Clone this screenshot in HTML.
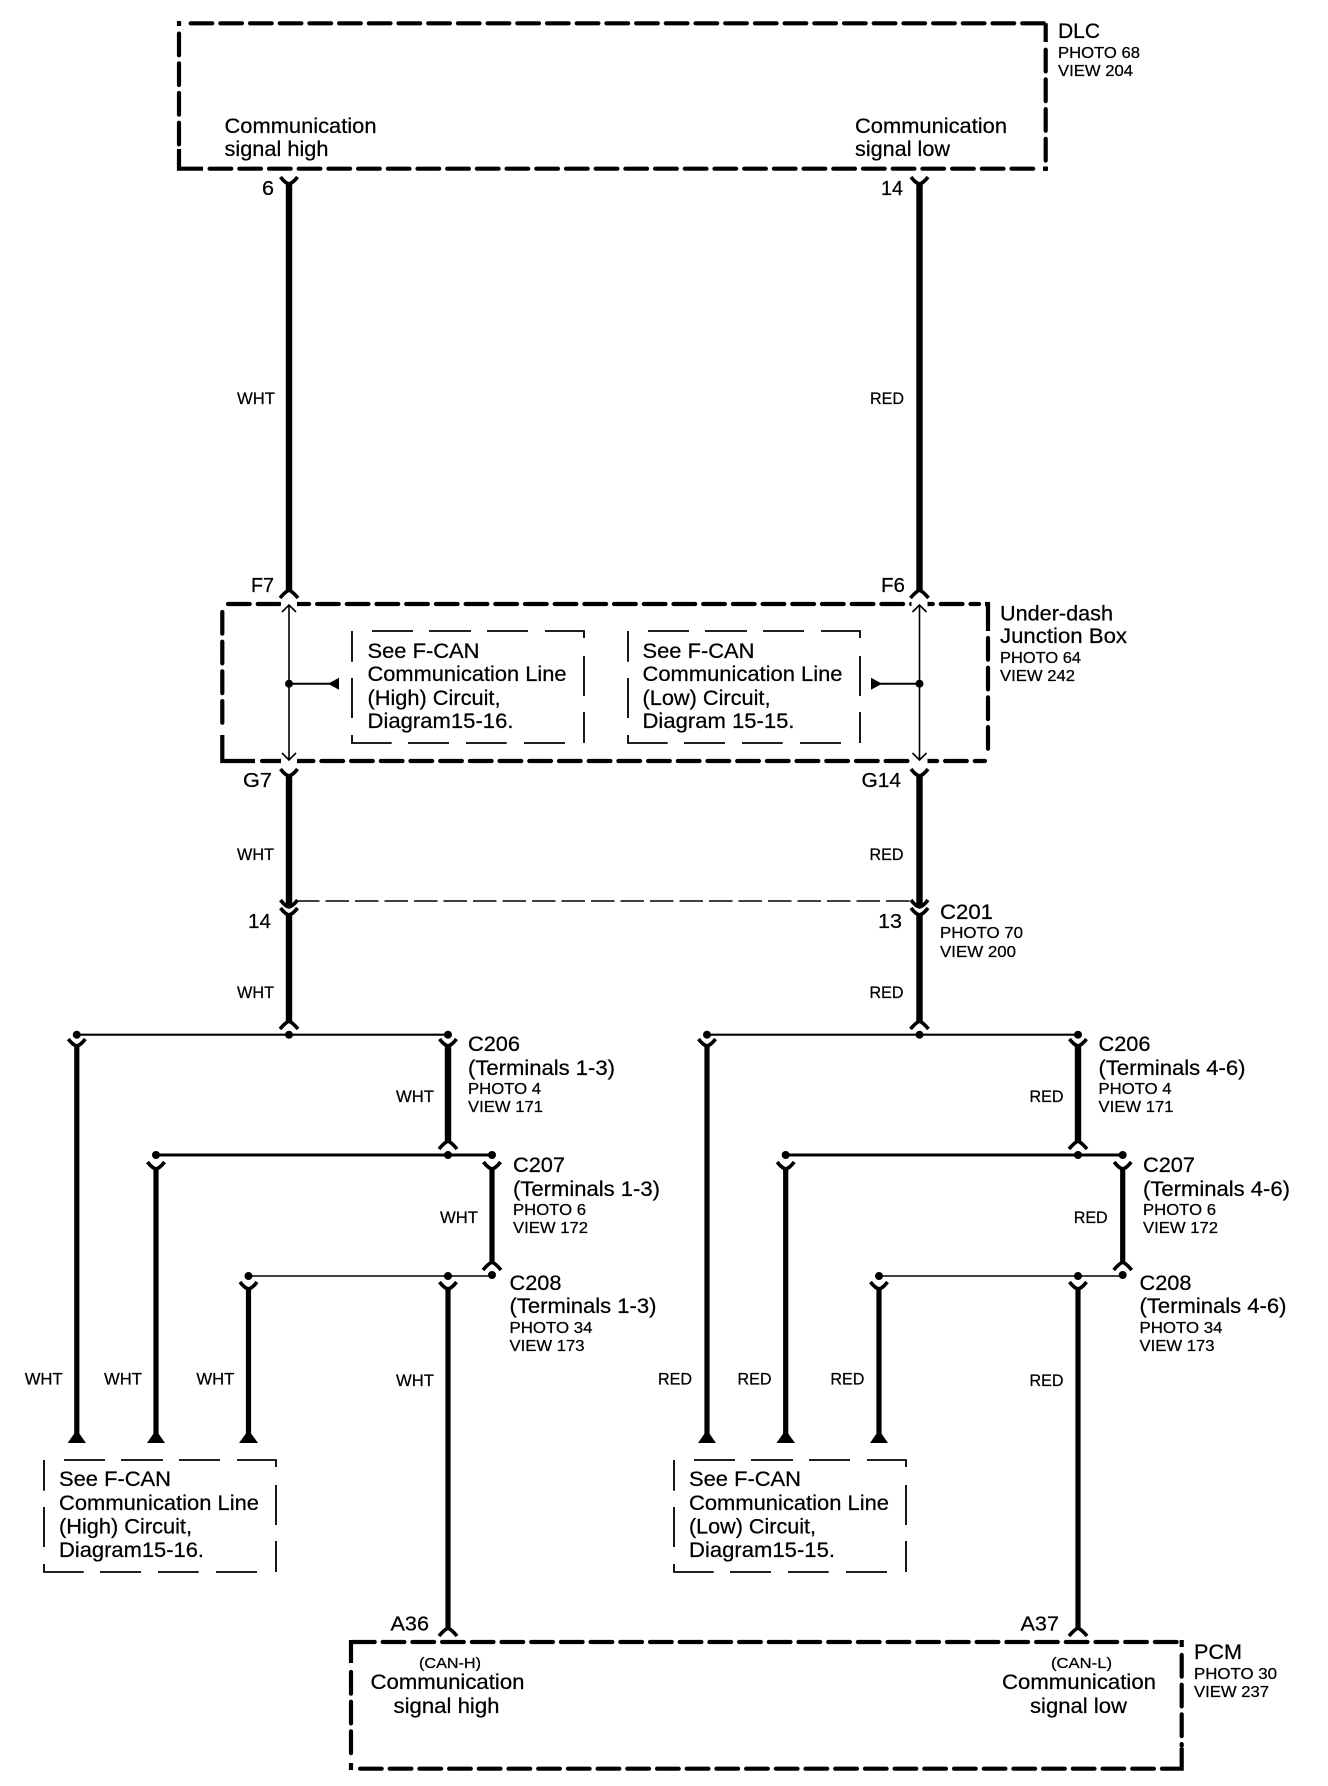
<!DOCTYPE html>
<html><head><meta charset="utf-8"><title>F-CAN Communication Line</title>
<style>
html,body{margin:0;padding:0;background:#fff}
svg{display:block}
text{font-family:"Liberation Sans",Arial,sans-serif;fill:#000;stroke:#000;stroke-width:.25}
.b{font-size:21.5px}.s{font-size:16px}.w{font-size:17px}.n{font-size:20px}
.d{stroke:#000;stroke-width:4.2;fill:none;stroke-dasharray:21.7 8;stroke-linecap:round}
</style></head><body>
<svg width="1328" height="1786" viewBox="0 0 1328 1786" xmlns="http://www.w3.org/2000/svg">
<defs>
<path id="f" d="M-8.5 0Q-4 6 0 7Q4 6 8.5 0" fill="none" stroke="#000" stroke-width="3.6"/>
<path id="m" d="M-9 8Q-4 2 0 0Q4 2 9 8" fill="none" stroke="#000" stroke-width="3.6"/>
<path id="tb" d="M0 0V30.7M0 47V87M0 104V112H39.7M56 112H97M114 112H154.7M172 112H213M232 112V81M232 65V25M232 7V0H193M176 0H135M119 0H77M61 0H20" fill="none" stroke="#000" stroke-width="1.8"/>
</defs>
<rect width="1328" height="1786" fill="#fff"/>

<!-- DLC box -->
<path class="d" d="M190.6 23.3H1045.7"/>
<path class="d" d="M179 33.6V147"/>
<path class="d" d="M1045.7 49.7V169"/>
<path class="d" d="M209.6 168.7H1039"/>
<path d="M177 23.3H181M179 21V26M179 149V168.7H203M1045.7 23.3V42M1043 168.7H1048" fill="none" stroke="#000" stroke-width="4.2"/>

<!-- Junction box -->
<path class="d" d="M228 604H979"/>
<path class="d" d="M222.3 612V730"/>
<path class="d" d="M988 638V756"/>
<path class="d" d="M262 761H985"/>
<path d="M222.3 735V761H255M985 604H990M988 602V631" fill="none" stroke="#000" stroke-width="4.2"/>

<!-- PCM box -->
<path class="d" d="M353 1642H1178"/>
<path class="d" d="M351 1672V1760"/>
<path class="d" d="M1181.7 1655V1746"/>
<path class="d" d="M360 1768.7H1166"/>
<path d="M351 1640V1663M1181.7 1640V1647M351 1763V1770M1181.7 1748V1770.7M1166 1768.7H1183" fill="none" stroke="#000" stroke-width="4.2"/>

<!-- main wires -->
<g stroke="#000" stroke-width="6.4" fill="none">
<path d="M289 183V591M919.5 183V591M289 775V906M919.5 775V906M289 914V1022M919.5 914V1022"/>
<path d="M448 1046V1142M1078 1046V1142"/>
</g>
<g stroke="#000" stroke-width="5.2" fill="none">
<path d="M76.8 1046V1434M156 1169V1434M248.5 1288V1434M448 1288V1629"/>
<path d="M707 1046V1434M785.7 1169V1434M879 1288V1434M1078 1288V1629"/>
<path d="M492 1169V1263M1122.7 1169V1263"/>
</g>

<!-- buses -->
<g stroke="#000" fill="none">
<path stroke-width="2.2" d="M76.8 1034.7H448M707 1034.7H1078"/>
<path stroke-width="3" d="M156 1155H492M785.7 1155H1122.7"/>
<path stroke-width="1.6" d="M248.5 1276H492M879 1276H1122.7"/>
</g>
<g fill="#000">
<circle cx="76.8" cy="1034.7" r="4"/><circle cx="289" cy="1034.7" r="4"/><circle cx="448" cy="1034.7" r="4"/>
<circle cx="707" cy="1034.7" r="4"/><circle cx="919.5" cy="1034.7" r="4"/><circle cx="1078" cy="1034.7" r="4"/>
<circle cx="156" cy="1155" r="4"/><circle cx="448" cy="1155" r="4"/><circle cx="492" cy="1155" r="4"/>
<circle cx="785.7" cy="1155" r="4"/><circle cx="1078" cy="1155" r="4"/><circle cx="1122.7" cy="1155" r="4"/>
<circle cx="248.5" cy="1276" r="4"/><circle cx="448" cy="1276" r="4"/><circle cx="492" cy="1275" r="4"/>
<circle cx="879" cy="1276" r="4"/><circle cx="1078" cy="1276" r="4"/><circle cx="1122.7" cy="1275" r="4"/>
<path d="M76.8 1430L86 1443H67.6ZM156 1430L165 1443H147ZM248.5 1430L258 1443H239ZM707 1430L716 1443H698ZM785.7 1430L795 1443H776.4ZM879 1430L888 1443H870Z"/>
</g>

<!-- connectors -->
<use href="#f" x="289" y="177"/><use href="#f" x="919.5" y="177"/>
<use href="#m" x="289" y="590"/><use href="#m" x="919.5" y="590"/>
<use href="#f" x="289" y="769"/><use href="#f" x="919.5" y="769"/>
<use href="#f" x="289" y="900"/><use href="#f" x="919.5" y="900"/>
<use href="#f" x="289" y="908"/><use href="#f" x="919.5" y="908"/>
<use href="#m" x="289" y="1021"/><use href="#m" x="919.5" y="1021"/>
<use href="#f" x="76.8" y="1039"/><use href="#f" x="448" y="1039"/><use href="#f" x="707" y="1039"/><use href="#f" x="1078" y="1039"/>
<use href="#m" x="448" y="1141"/><use href="#m" x="1078" y="1141"/>
<use href="#f" x="156" y="1162"/><use href="#f" x="492" y="1162"/><use href="#f" x="785.7" y="1162"/><use href="#f" x="1122.7" y="1162"/>
<use href="#m" x="492" y="1262"/><use href="#m" x="1122.7" y="1262"/>
<use href="#f" x="248.5" y="1282"/><use href="#f" x="448" y="1282"/><use href="#f" x="879" y="1282"/><use href="#f" x="1078" y="1282"/>
<use href="#m" x="448" y="1628"/><use href="#m" x="1078" y="1628"/>

<!-- junction internals -->
<rect x="281" y="601" width="16" height="6" fill="#fff"/>
<rect x="911.5" y="601" width="16" height="6" fill="#fff"/>
<rect x="281" y="758" width="16" height="6" fill="#fff"/>
<rect x="911.5" y="758" width="16" height="6" fill="#fff"/>
<g stroke="#000" stroke-width="1.6" fill="none">
<path d="M289 605V760M282 612L289 605L296 612M282 753L289 760L296 753"/>
<path d="M919.5 605V760M912.5 612L919.5 605L926.5 612M912.5 753L919.5 760L926.5 753"/>
</g>
<path d="M289 683.7H332M919.5 683.7H876" stroke="#000" stroke-width="2" fill="none"/>
<circle cx="289" cy="683.7" r="4" fill="#000"/><circle cx="919.5" cy="683.7" r="4" fill="#000"/>
<path d="M328 683.7L339 677.7V689.7ZM882 683.7L871 677.7V689.7Z" fill="#000"/>

<!-- C201 dashed -->
<path d="M296 901H912" stroke="#000" stroke-width="1.6" fill="none" stroke-dasharray="23.5 6"/>

<!-- dashed reference boxes -->
<use href="#tb" x="352" y="631"/>
<use href="#tb" x="628" y="631"/>
<use href="#tb" x="44" y="1460"/>
<use href="#tb" x="674" y="1460"/>

<!-- DLC text -->
<text class="b" x="224.5" y="133" textLength="152" lengthAdjust="spacingAndGlyphs">Communication</text>
<text class="b" x="224.5" y="156" textLength="104" lengthAdjust="spacingAndGlyphs">signal high</text>
<text class="b" x="855" y="133" textLength="152" lengthAdjust="spacingAndGlyphs">Communication</text>
<text class="b" x="855" y="156" textLength="95" lengthAdjust="spacingAndGlyphs">signal low</text>
<text class="b" x="1058" y="38" textLength="42" lengthAdjust="spacingAndGlyphs">DLC</text>
<text class="s" x="1058" y="58" textLength="82" lengthAdjust="spacingAndGlyphs">PHOTO 68</text>
<text class="s" x="1058" y="76" textLength="75" lengthAdjust="spacingAndGlyphs">VIEW 204</text>
<text class="n" x="262" y="195" textLength="12" lengthAdjust="spacingAndGlyphs">6</text>
<text class="n" x="881" y="195" textLength="22" lengthAdjust="spacingAndGlyphs">14</text>
<text class="w" x="237" y="404" textLength="38" lengthAdjust="spacingAndGlyphs">WHT</text>
<text class="w" x="870" y="404" textLength="34" lengthAdjust="spacingAndGlyphs">RED</text>

<!-- junction text -->
<text class="n" x="251" y="592" textLength="23" lengthAdjust="spacingAndGlyphs">F7</text>
<text class="n" x="881" y="592" textLength="24" lengthAdjust="spacingAndGlyphs">F6</text>
<text class="n" x="243" y="787" textLength="29" lengthAdjust="spacingAndGlyphs">G7</text>
<text class="n" x="861.5" y="787" textLength="39.5" lengthAdjust="spacingAndGlyphs">G14</text>
<text class="b" x="1000" y="620.5" textLength="113" lengthAdjust="spacingAndGlyphs">Under-dash</text>
<text class="b" x="1000" y="643" textLength="127" lengthAdjust="spacingAndGlyphs">Junction Box</text>
<text class="s" x="1000" y="663" textLength="81" lengthAdjust="spacingAndGlyphs">PHOTO 64</text>
<text class="s" x="1000" y="681" textLength="75" lengthAdjust="spacingAndGlyphs">VIEW 242</text>

<text class="b" x="367.5" y="658" textLength="112" lengthAdjust="spacingAndGlyphs">See F-CAN</text>
<text class="b" x="367.5" y="681" textLength="199" lengthAdjust="spacingAndGlyphs">Communication Line</text>
<text class="b" x="367.5" y="705" textLength="133" lengthAdjust="spacingAndGlyphs">(High) Circuit,</text>
<text class="b" x="367.5" y="728" textLength="146" lengthAdjust="spacingAndGlyphs">Diagram15-16.</text>
<text class="b" x="642.5" y="658" textLength="112" lengthAdjust="spacingAndGlyphs">See F-CAN</text>
<text class="b" x="642.5" y="681" textLength="200" lengthAdjust="spacingAndGlyphs">Communication Line</text>
<text class="b" x="642.5" y="705" textLength="128" lengthAdjust="spacingAndGlyphs">(Low) Circuit,</text>
<text class="b" x="642.5" y="728" textLength="152" lengthAdjust="spacingAndGlyphs">Diagram 15-15.</text>

<text class="w" x="237" y="860" textLength="37" lengthAdjust="spacingAndGlyphs">WHT</text>
<text class="w" x="869.5" y="860" textLength="34" lengthAdjust="spacingAndGlyphs">RED</text>
<text class="n" x="248" y="928" textLength="23" lengthAdjust="spacingAndGlyphs">14</text>
<text class="n" x="878" y="928" textLength="24" lengthAdjust="spacingAndGlyphs">13</text>
<text class="b" x="940" y="919" textLength="53" lengthAdjust="spacingAndGlyphs">C201</text>
<text class="s" x="940" y="938" textLength="83" lengthAdjust="spacingAndGlyphs">PHOTO 70</text>
<text class="s" x="940" y="957" textLength="76" lengthAdjust="spacingAndGlyphs">VIEW 200</text>
<text class="w" x="237" y="998" textLength="37" lengthAdjust="spacingAndGlyphs">WHT</text>
<text class="w" x="869.5" y="998" textLength="34" lengthAdjust="spacingAndGlyphs">RED</text>

<!-- C206 -->
<text class="b" x="468" y="1051" textLength="52" lengthAdjust="spacingAndGlyphs">C206</text>
<text class="b" x="468" y="1075" textLength="147" lengthAdjust="spacingAndGlyphs">(Terminals 1-3)</text>
<text class="s" x="468" y="1094" textLength="73" lengthAdjust="spacingAndGlyphs">PHOTO 4</text>
<text class="s" x="468" y="1112" textLength="75" lengthAdjust="spacingAndGlyphs">VIEW 171</text>
<text class="w" x="396" y="1102" textLength="38" lengthAdjust="spacingAndGlyphs">WHT</text>
<text class="b" x="1098.5" y="1051" textLength="52" lengthAdjust="spacingAndGlyphs">C206</text>
<text class="b" x="1098.5" y="1075" textLength="147" lengthAdjust="spacingAndGlyphs">(Terminals 4-6)</text>
<text class="s" x="1098.5" y="1094" textLength="73" lengthAdjust="spacingAndGlyphs">PHOTO 4</text>
<text class="s" x="1098.5" y="1112" textLength="75" lengthAdjust="spacingAndGlyphs">VIEW 171</text>
<text class="w" x="1029.5" y="1102" textLength="34" lengthAdjust="spacingAndGlyphs">RED</text>

<!-- C207 -->
<text class="b" x="513" y="1172" textLength="52" lengthAdjust="spacingAndGlyphs">C207</text>
<text class="b" x="513" y="1196" textLength="147" lengthAdjust="spacingAndGlyphs">(Terminals 1-3)</text>
<text class="s" x="513" y="1215" textLength="73" lengthAdjust="spacingAndGlyphs">PHOTO 6</text>
<text class="s" x="513" y="1233" textLength="75" lengthAdjust="spacingAndGlyphs">VIEW 172</text>
<text class="w" x="440" y="1223" textLength="38" lengthAdjust="spacingAndGlyphs">WHT</text>
<text class="b" x="1143" y="1172" textLength="52" lengthAdjust="spacingAndGlyphs">C207</text>
<text class="b" x="1143" y="1196" textLength="147" lengthAdjust="spacingAndGlyphs">(Terminals 4-6)</text>
<text class="s" x="1143" y="1215" textLength="73" lengthAdjust="spacingAndGlyphs">PHOTO 6</text>
<text class="s" x="1143" y="1233" textLength="75" lengthAdjust="spacingAndGlyphs">VIEW 172</text>
<text class="w" x="1073.7" y="1223" textLength="34" lengthAdjust="spacingAndGlyphs">RED</text>

<!-- C208 -->
<text class="b" x="509.5" y="1290" textLength="52" lengthAdjust="spacingAndGlyphs">C208</text>
<text class="b" x="509.5" y="1313" textLength="147" lengthAdjust="spacingAndGlyphs">(Terminals 1-3)</text>
<text class="s" x="509.5" y="1333" textLength="83" lengthAdjust="spacingAndGlyphs">PHOTO 34</text>
<text class="s" x="509.5" y="1351" textLength="75" lengthAdjust="spacingAndGlyphs">VIEW 173</text>
<text class="b" x="1139.5" y="1290" textLength="52" lengthAdjust="spacingAndGlyphs">C208</text>
<text class="b" x="1139.5" y="1313" textLength="147" lengthAdjust="spacingAndGlyphs">(Terminals 4-6)</text>
<text class="s" x="1139.5" y="1333" textLength="83" lengthAdjust="spacingAndGlyphs">PHOTO 34</text>
<text class="s" x="1139.5" y="1351" textLength="75" lengthAdjust="spacingAndGlyphs">VIEW 173</text>

<!-- lower colour labels -->
<text class="w" x="24.7" y="1384.5" textLength="38" lengthAdjust="spacingAndGlyphs">WHT</text>
<text class="w" x="104" y="1384.5" textLength="38" lengthAdjust="spacingAndGlyphs">WHT</text>
<text class="w" x="196.4" y="1384.5" textLength="38" lengthAdjust="spacingAndGlyphs">WHT</text>
<text class="w" x="396" y="1386" textLength="38" lengthAdjust="spacingAndGlyphs">WHT</text>
<text class="w" x="658" y="1384.5" textLength="34" lengthAdjust="spacingAndGlyphs">RED</text>
<text class="w" x="737.5" y="1384.5" textLength="34" lengthAdjust="spacingAndGlyphs">RED</text>
<text class="w" x="830.4" y="1384.5" textLength="34" lengthAdjust="spacingAndGlyphs">RED</text>
<text class="w" x="1029.5" y="1386" textLength="34" lengthAdjust="spacingAndGlyphs">RED</text>

<!-- lower boxes text -->
<text class="b" x="59" y="1486" textLength="112" lengthAdjust="spacingAndGlyphs">See F-CAN</text>
<text class="b" x="59" y="1510" textLength="200" lengthAdjust="spacingAndGlyphs">Communication Line</text>
<text class="b" x="59" y="1533.5" textLength="133" lengthAdjust="spacingAndGlyphs">(High) Circuit,</text>
<text class="b" x="59" y="1557" textLength="145" lengthAdjust="spacingAndGlyphs">Diagram15-16.</text>
<text class="b" x="689" y="1486" textLength="112" lengthAdjust="spacingAndGlyphs">See F-CAN</text>
<text class="b" x="689" y="1510" textLength="200" lengthAdjust="spacingAndGlyphs">Communication Line</text>
<text class="b" x="689" y="1533.5" textLength="127" lengthAdjust="spacingAndGlyphs">(Low) Circuit,</text>
<text class="b" x="689" y="1557" textLength="146" lengthAdjust="spacingAndGlyphs">Diagram15-15.</text>

<!-- PCM text -->
<text class="n" x="390.5" y="1630.5" textLength="38.5" lengthAdjust="spacingAndGlyphs">A36</text>
<text class="n" x="1020.5" y="1630.5" textLength="38.5" lengthAdjust="spacingAndGlyphs">A37</text>
<text class="s" style="font-size:15px" x="419" y="1668" textLength="62" lengthAdjust="spacingAndGlyphs">(CAN-H)</text>
<text class="s" style="font-size:15px" x="1051" y="1668" textLength="61" lengthAdjust="spacingAndGlyphs">(CAN-L)</text>
<text class="b" x="370.5" y="1689" textLength="154" lengthAdjust="spacingAndGlyphs">Communication</text>
<text class="b" x="1002" y="1689" textLength="154" lengthAdjust="spacingAndGlyphs">Communication</text>
<text class="b" x="393.5" y="1713" textLength="106" lengthAdjust="spacingAndGlyphs">signal high</text>
<text class="b" x="1030" y="1713" textLength="97" lengthAdjust="spacingAndGlyphs">signal low</text>
<text class="b" x="1194" y="1659" textLength="48" lengthAdjust="spacingAndGlyphs">PCM</text>
<text class="s" x="1194" y="1679" textLength="83" lengthAdjust="spacingAndGlyphs">PHOTO 30</text>
<text class="s" x="1194" y="1697" textLength="75" lengthAdjust="spacingAndGlyphs">VIEW 237</text>
</svg>
</body></html>
